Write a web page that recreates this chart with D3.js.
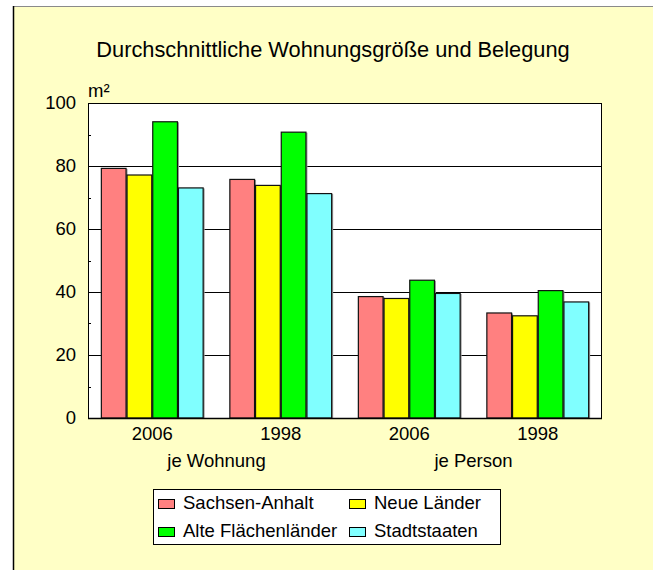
<!DOCTYPE html>
<html>
<head>
<meta charset="utf-8">
<script src="https://cdn.jsdelivr.net/npm/d3@7"></script>
<style>
  html, body { margin: 0; padding: 0; background: #ffffff; }
  svg { display: block; font-family: "Liberation Sans", Arial, sans-serif; }
</style>
</head>
<body>
<svg id="chart" width="653" height="570"></svg>
<script>
// ---- data ----
const groups = ["je Wohnung 2006", "je Wohnung 1998", "je Person 2006", "je Person 1998"];
const groupYears = ["2006", "1998", "2006", "1998"];
const groupSections = ["je Wohnung", "je Person"];
const series = ["Sachsen-Anhalt", "Neue Länder", "Alte Flächenländer", "Stadtstaaten"];
const sachsenAnhalt = [79.4, 75.9, 38.7, 33.5];
const neueLaender = [77.3, 74.0, 38.1, 32.6];
const alteFlaechenlaender = [94.2, 90.9, 43.9, 40.6];
const stadtstaaten = [73.2, 71.4, 39.7, 37.0];
const yTicks = [0, 20, 40, 60, 80, 100];
const yMinorTicks = [10, 30, 50, 70, 90];
const colors = ["#FF8080", "#FFFF00", "#00FF00", "#80FFFF"];
const title = "Durchschnittliche Wohnungsgröße und Belegung";
const unit = "m²";

const values = [sachsenAnhalt, neueLaender, alteFlaechenlaender, stadtstaaten];
const FS = 18.5;

const svg = d3.select("#chart");

// background panel
svg.append("rect").attr("x", 13).attr("y", 6).attr("width", 640).attr("height", 564)
  .attr("fill", "#FFFFC6");
svg.append("line").attr("x1", 13).attr("x2", 653).attr("y1", 6.5).attr("y2", 6.5)
  .attr("stroke", "#8a8a8a").attr("stroke-width", 1);
svg.append("line").attr("x1", 13.5).attr("x2", 13.5).attr("y1", 6).attr("y2", 570)
  .attr("stroke", "#000").attr("stroke-width", 1.5);

// title
svg.append("text").attr("x", 333).attr("y", 57).attr("text-anchor", "middle")
  .attr("font-size", 21.8).attr("fill", "#000").text(title);

const plot = { left: 88, right: 602, top: 103, bottom: 418 };

const x0 = d3.scaleBand().domain(groups).range([plot.left, plot.right]).paddingInner(0).paddingOuter(0);
const x1 = d3.scaleBand().domain(series).range([0, x0.bandwidth()]).paddingInner(0).paddingOuter(0.5);
const y = d3.scaleLinear().domain([0, 100]).range([plot.bottom, plot.top]);

// plot area
svg.append("rect").attr("x", plot.left).attr("y", plot.top)
  .attr("width", plot.right - plot.left).attr("height", plot.bottom - plot.top)
  .attr("fill", "#fff");

// gridlines
svg.append("g").selectAll("line").data(yTicks.filter(d => d > 0 && d < 100)).join("line")
  .attr("x1", plot.left).attr("x2", plot.right)
  .attr("y1", d => Math.round(y(d)) + 0.5).attr("y2", d => Math.round(y(d)) + 0.5)
  .attr("stroke", "#000").attr("stroke-width", 1);

// minor ticks (inside)
svg.append("g").selectAll("line").data(yMinorTicks).join("line")
  .attr("x1", plot.left).attr("x2", plot.left + 3)
  .attr("y1", d => Math.round(y(d)) + 0.5).attr("y2", d => Math.round(y(d)) + 0.5)
  .attr("stroke", "#000").attr("stroke-width", 1);

// bars
const gGroups = svg.append("g").selectAll("g").data(groups).join("g")
  .attr("transform", d => `translate(${x0(d)},0)`);

gGroups.selectAll("rect.shadow").data((g, gi) => series.map((s, si) => ({ s, si, v: values[si][gi] })))
  .join("rect").attr("class", "shadow")
  .attr("x", d => x1(d.s) + 1).attr("y", d => y(d.v) + 1)
  .attr("width", x1.bandwidth()).attr("height", d => y(0) - y(d.v) - 1)
  .attr("fill", "#9a9a9a");

gGroups.selectAll("rect.bar").data((g, gi) => series.map((s, si) => ({ s, si, v: values[si][gi] })))
  .join("rect").attr("class", "bar")
  .attr("x", d => x1(d.s) + 0.5).attr("y", d => y(d.v) + 0.5)
  .attr("width", x1.bandwidth() - 1).attr("height", d => y(0) - y(d.v) - 0.5)
  .attr("fill", d => colors[d.si])
  .attr("stroke", "#111").attr("stroke-width", 1.2);

// plot border
svg.append("rect").attr("x", plot.left + 0.5).attr("y", plot.top + 0.5)
  .attr("width", plot.right - plot.left - 1).attr("height", plot.bottom - plot.top)
  .attr("fill", "none").attr("stroke", "#000").attr("stroke-width", 1);
svg.append("line").attr("x1", plot.left).attr("x2", plot.right)
  .attr("y1", plot.bottom + 0.5).attr("y2", plot.bottom + 0.5)
  .attr("stroke", "#000").attr("stroke-width", 1.5);

// y axis labels
const yAxis = d3.axisLeft(y).tickValues(yTicks).tickSize(0).tickPadding(12);
const gy = svg.append("g").attr("transform", `translate(${plot.left},0)`).call(yAxis);
gy.select(".domain").remove();
gy.selectAll("text").attr("font-size", FS).attr("fill", "#000")
  .attr("font-family", "Liberation Sans, Arial, sans-serif");

// unit
svg.append("text").attr("x", 88).attr("y", 97).attr("font-size", FS).attr("fill", "#000").text(unit);

// x axis year labels
const xAxis = d3.axisBottom(x0).tickSize(0).tickPadding(9).tickFormat((d, i) => groupYears[i]);
const gx = svg.append("g").attr("transform", `translate(0,${plot.bottom})`).call(xAxis);
gx.select(".domain").remove();
gx.selectAll("text").attr("font-size", FS).attr("fill", "#000")
  .attr("font-family", "Liberation Sans, Arial, sans-serif");

// section labels
groupSections.forEach((sec, i) => {
  const a = x0(groups[i * 2]);
  const b = x0(groups[i * 2 + 1]) + x0.bandwidth();
  svg.append("text").attr("x", (a + b) / 2).attr("y", 467).attr("text-anchor", "middle")
    .attr("font-size", FS).attr("fill", "#000").text(sec);
});

// legend
const leg = svg.append("g");
leg.append("rect").attr("x", 153.5).attr("y", 489.5).attr("width", 347).attr("height", 55)
  .attr("fill", "#fff").attr("stroke", "#000").attr("stroke-width", 1);
const legPos = [[158, 509], [349, 509], [158, 537], [349, 537]];
series.forEach((s, i) => {
  const [lx, ly] = legPos[i];
  leg.append("rect").attr("x", lx + 0.5).attr("y", ly - 9.5).attr("width", 16).attr("height", 9)
    .attr("fill", colors[i]).attr("stroke", "#000").attr("stroke-width", 1);
  leg.append("text").attr("x", lx + 25).attr("y", ly).attr("font-size", FS).attr("fill", "#000").text(s);
});
</script>
</body>
</html>
